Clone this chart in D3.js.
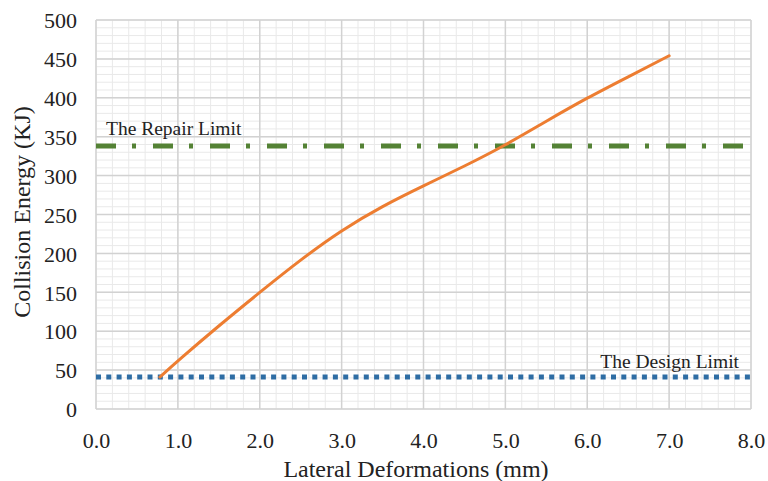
<!DOCTYPE html>
<html><head><meta charset="utf-8">
<script src="https://cdn.jsdelivr.net/npm/d3@7"></script>
<style>body{margin:0;background:#fff}svg{display:block}svg text{font-family:'Liberation Serif','DejaVu Serif',Times,serif !important;fill:#222}</style>
</head><body><svg id="c" width="768" height="481"></svg>
<script>
const xTicks = [0,1,2,3,4,5,6,7,8];
const yTicks = [0,50,100,150,200,250,300,350,400,450,500];
const deformation = [0.78, 1.0, 1.5, 2.0, 2.5, 3.0, 3.5, 4.0, 4.5, 5.0, 5.5, 6.0, 6.5, 7.0];
const energy =      [41,   62,  107, 150, 192, 230, 261, 287, 312, 339, 370, 400, 427, 454];
const repairLimit = 338;
const designLimit = 41;
const labels = {x:"Lateral Deformations (mm)", y:"Collision Energy (KJ)", repair:"The Repair Limit", design:"The Design Limit"};

const svg = d3.select("#c");
const m = {l:96, r:751, t:20, b:409};
const x = d3.scaleLinear().domain([0,8]).range([m.l,m.r]);
const y = d3.scaleLinear().domain([0,500]).range([m.b,m.t]);

const xMinor = d3.range(0,8.0001,0.2), yMinor = d3.range(0,500.001,10);
svg.append("g").selectAll("line").data(xMinor).join("line")
  .attr("x1",d=>x(d)).attr("x2",d=>x(d)).attr("y1",m.t).attr("y2",m.b)
  .attr("stroke","#e9e9e9").attr("stroke-width",1);
svg.append("g").selectAll("line").data(yMinor).join("line")
  .attr("y1",d=>y(d)).attr("y2",d=>y(d)).attr("x1",m.l).attr("x2",m.r)
  .attr("stroke","#e9e9e9").attr("stroke-width",1);
svg.append("g").selectAll("line").data(xTicks).join("line")
  .attr("x1",d=>x(d)).attr("x2",d=>x(d)).attr("y1",m.t).attr("y2",m.b)
  .attr("stroke","#d2d2d2").attr("stroke-width",1.5);
svg.append("g").selectAll("line").data(yTicks).join("line")
  .attr("y1",d=>y(d)).attr("y2",d=>y(d)).attr("x1",m.l).attr("x2",m.r)
  .attr("stroke","#d2d2d2").attr("stroke-width",1.5);

const xa = svg.append("g").attr("transform",`translate(0,${m.b})`)
  .call(d3.axisBottom(x).tickValues(xTicks).tickFormat(d3.format(".1f")).tickSize(0).tickPadding(0));
xa.attr("font-family",null).attr("font-size",null);
xa.select(".domain").remove();
xa.selectAll("text").attr("dy",null).attr("y",39).style("font-size","22px").attr("fill","#222");
const ya = svg.append("g").attr("transform",`translate(${m.l},0)`)
  .call(d3.axisLeft(y).tickValues(yTicks).tickSize(0).tickPadding(0));
ya.attr("font-family",null).attr("font-size",null);
ya.select(".domain").remove();
ya.selectAll("text").attr("x",-19).attr("dy","0.35em").style("font-size","22px").attr("fill","#222");

svg.append("line").attr("x1",x(0)).attr("x2",x(8)).attr("y1",y(repairLimit)).attr("y2",y(repairLimit))
  .attr("stroke","#548235").attr("stroke-width",5).attr("stroke-dasharray","20,16,4,17");
svg.append("line").attr("x1",x(0)).attr("x2",x(8)).attr("y1",y(designLimit)).attr("y2",y(designLimit))
  .attr("stroke","#2E6DA4").attr("stroke-width",5).attr("stroke-dasharray","5,5.3");

const pts = deformation.map((d,i)=>[d,energy[i]]);
svg.append("path").datum(pts)
  .attr("d", d3.line().x(d=>x(d[0])).y(d=>y(d[1])).curve(d3.curveBasis))
  .attr("fill","none").attr("stroke","#ED7D31").attr("stroke-width",3).attr("stroke-linecap","round");

svg.append("text").attr("x",106).attr("y",135).style("font-size","19.5px").text(labels.repair);
svg.append("text").attr("x",739).attr("y",368).attr("text-anchor","end").style("font-size","19.5px").text(labels.design);

svg.append("text").attr("x",416).attr("y",477).attr("text-anchor","middle").style("font-size","24px").text(labels.x);
svg.append("text").attr("transform","translate(30,212) rotate(-90)").attr("text-anchor","middle").style("font-size","24px").text(labels.y);
</script></body></html>
